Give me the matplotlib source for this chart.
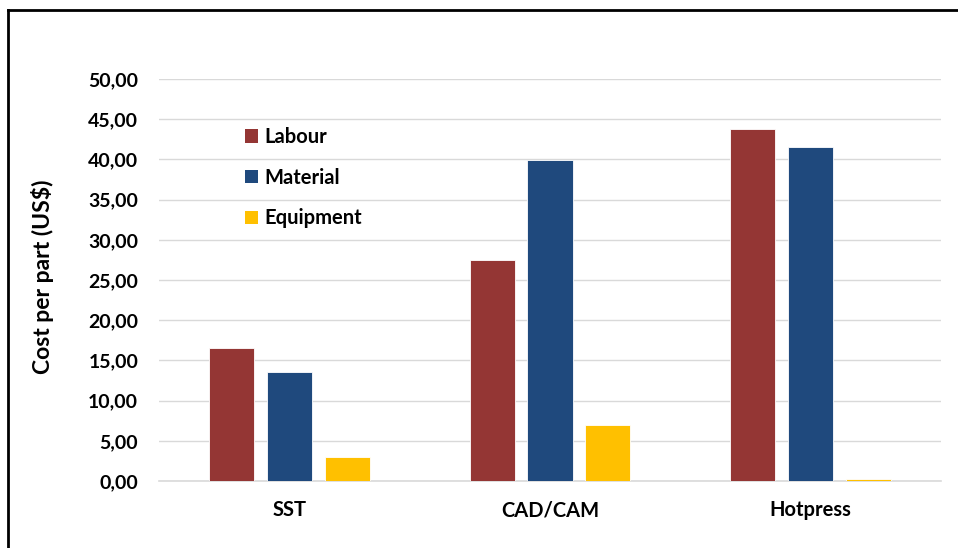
import matplotlib.pyplot as plt
from matplotlib.lines import Line2D
from matplotlib.patches import Patch
import numpy as np

categories = ['SST', 'CAD/CAM', 'Hotpress']
labour = [16.55, 27.45, 43.8]
material = [13.55, 39.9, 41.6]
equipment = [3.0, 6.95, 0.25]
yticks = [0, 5, 10, 15, 20, 25, 30, 35, 40, 45, 50]

COLORS = {'Labour': '#943634', 'Material': '#1F497D', 'Equipment': '#FFC000'}
FONT = 'Lato'

fig = plt.figure(figsize=(9.58, 5.48), dpi=100)
ax = fig.add_axes([159 / 958, 1 - 481 / 548, 782 / 958, 402 / 548])

x = np.arange(len(categories))
w = 0.173
off = 0.222
series = [('Labour', labour), ('Material', material), ('Equipment', equipment)]
for i, (name, vals) in enumerate(series):
    ax.bar(x + (i - 1) * off, vals, width=w, color=COLORS[name],
           edgecolor='white', linewidth=0.6, zorder=3, label=name)

ax.set_xlim(-0.5, 2.5)
ax.set_ylim(0, 50)
ax.set_yticks(yticks)
ax.set_yticklabels([f'{v:.2f}'.replace('.', ',') for v in yticks],
                   fontfamily=FONT, fontweight='bold', fontsize=14)
ax.set_xticks(x)
ax.set_xticklabels(categories, fontfamily=FONT, fontweight='bold', fontsize=14.5)
ax.tick_params(axis='both', length=0)
ax.tick_params(axis='y', pad=15)
ax.tick_params(axis='x', pad=14)

ax.grid(axis='y', color='#D9D9D9', linewidth=1.0, zorder=0)
ax.set_axisbelow(True)
for s in ['top', 'right', 'left']:
    ax.spines[s].set_visible(False)
ax.spines['bottom'].set_color('#D9D9D9')
ax.spines['bottom'].set_linewidth(1.2)

fig.text(43 / 958, 1 - 277 / 548, 'Cost per part (US$)', rotation=90,
         ha='center', va='center', fontfamily=FONT, fontweight='bold', fontsize=16.5)

handles = [Patch(facecolor=COLORS[n], edgecolor='none', label=n) for n, _ in series]
ax.legend(handles=handles, loc='upper left', bbox_to_anchor=(0.087, 0.925),
          frameon=False, prop={'family': FONT, 'weight': 'bold', 'size': 14.5},
          handlelength=0.65, handleheight=0.65, handletextpad=0.3, labelspacing=1.02)

# outer frame (left and top edges visible)
fig.add_artist(Line2D([8 / 958, 8 / 958], [-0.05, 1 - 10 / 548], color='black',
                      linewidth=2, transform=fig.transFigure))
fig.add_artist(Line2D([8 / 958, 1.05], [1 - 10 / 548, 1 - 10 / 548], color='black',
                      linewidth=2, transform=fig.transFigure))

fig.savefig('out.png', dpi=100, facecolor='white')
